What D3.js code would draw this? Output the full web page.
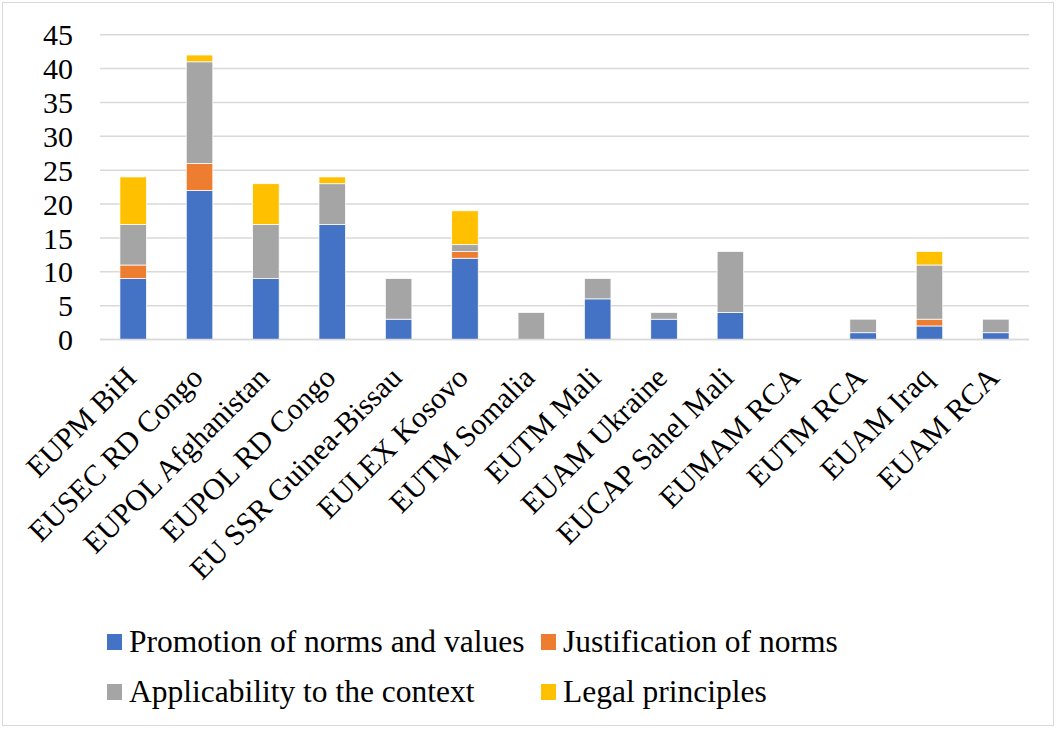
<!DOCTYPE html>
<html>
<head>
<meta charset="utf-8">
<script src="https://cdn.jsdelivr.net/npm/d3@7"></script>
<style>
  html, body { margin: 0; padding: 0; background: #fff; }
  svg { display: block; }
</style>
</head>
<body>
<svg id="chart" width="1057" height="729"></svg>
<script>
// Missions on the x axis
const missions = [
  "EUPM BiH", "EUSEC RD Congo", "EUPOL Afghanistan", "EUPOL RD Congo",
  "EU SSR Guinea-Bissau", "EULEX Kosovo", "EUTM Somalia", "EUTM Mali",
  "EUAM Ukraine", "EUCAP Sahel Mali", "EUMAM RCA", "EUTM RCA",
  "EUAM Iraq", "EUAM RCA"
];

// Counts per argument type, one value per mission
const promotion     = [9, 22, 9, 17, 3, 12, 0, 6, 3, 4, 0, 1, 2, 1];
const justification = [2, 4, 0, 0, 0, 1, 0, 0, 0, 0, 0, 0, 1, 0];
const applicability = [6, 15, 8, 6, 6, 1, 4, 3, 1, 9, 0, 2, 8, 2];
const legal         = [7, 1, 6, 1, 0, 5, 0, 0, 0, 0, 0, 0, 2, 0];

const seriesNames = [
  "Promotion of norms and values", "Justification of norms",
  "Applicability to the context", "Legal principles"
];
const seriesColors = ["#4472C4", "#ED7D31", "#A5A5A5", "#FFC000"];
const yTicks = [0, 5, 10, 15, 20, 25, 30, 35, 40, 45];

const FONT = "Liberation Serif";

const keys = ["promotion", "justification", "applicability", "legal"];
const rows = missions.map((m, i) => ({
  mission: m,
  promotion: promotion[i],
  justification: justification[i],
  applicability: applicability[i],
  legal: legal[i]
}));

const svg = d3.select("#chart");

// outer frame
svg.append("rect")
  .attr("x", 2.5).attr("y", 2.5)
  .attr("width", 1051).attr("height", 723)
  .attr("fill", "none").attr("stroke", "#d9d9d9").attr("stroke-width", 1);

const plot = { left: 100, right: 1029, top: 34.7, bottom: 339.5 };

const x = d3.scaleBand()
  .domain(missions)
  .range([plot.left, plot.right])
  .paddingInner(0.6)
  .paddingOuter(0.3);

const y = d3.scaleLinear()
  .domain([0, 45])
  .range([plot.bottom, plot.top]);

// gridlines
svg.append("g")
  .selectAll("line")
  .data(yTicks)
  .join("line")
  .attr("x1", plot.left).attr("x2", plot.right)
  .attr("y1", d => y(d)).attr("y2", d => y(d))
  .attr("stroke", "#d9d9d9").attr("stroke-width", 1.5);

// y axis labels
const yAxis = d3.axisLeft(y).tickValues(yTicks).tickSize(0).tickPadding(0);
const yG = svg.append("g")
  .attr("transform", `translate(73,0)`)
  .call(yAxis)
  .attr("font-family", FONT)
  .attr("font-size", 30);
yG.select(".domain").remove();
yG.selectAll("text")
  .style("font-family", FONT)
  .style("font-size", "30px")
  .attr("fill", "#000")
  .attr("dy", "0.34em");

// stacked bars
const stack = d3.stack().keys(keys)(rows);
svg.append("g")
  .selectAll("g")
  .data(stack)
  .join("g")
  .attr("fill", (d, i) => seriesColors[i])
  .selectAll("rect")
  .data(d => d.filter(s => s[1] - s[0] > 0))
  .join("rect")
  .attr("x", d => x(d.data.mission))
  .attr("width", x.bandwidth())
  .attr("y", d => y(d[1]))
  .attr("height", d => y(d[0]) - y(d[1]))
  .attr("stroke", "#ffffff")
  .attr("stroke-width", 0.75);

// x axis baseline
svg.append("line")
  .attr("x1", plot.left).attr("x2", plot.right)
  .attr("y1", y(0)).attr("y2", y(0))
  .attr("stroke", "#d9d9d9").attr("stroke-width", 1.5);

// rotated category labels
const xAxis = d3.axisBottom(x).tickSize(0).tickPadding(0);
const xG = svg.append("g")
  .attr("transform", `translate(0,${y(0)})`)
  .call(xAxis)
  .attr("font-family", FONT)
  .attr("font-size", 30);
xG.select(".domain").remove();
xG.selectAll("text")
  .style("font-family", FONT)
  .style("font-size", "30px")
  .attr("fill", "#000")
  .attr("text-anchor", "end")
  .attr("dy", null)
  .attr("y", 0)
  .attr("transform", "translate(5,40) rotate(-45)");

// legend
const legendItems = [
  { name: seriesNames[0], color: seriesColors[0], sx: 107, tx: 129, by: 652 },
  { name: seriesNames[1], color: seriesColors[1], sx: 541, tx: 563, by: 652 },
  { name: seriesNames[2], color: seriesColors[2], sx: 107, tx: 129, by: 702 },
  { name: seriesNames[3], color: seriesColors[3], sx: 541, tx: 563, by: 702 }
];
const lg = svg.append("g");
lg.selectAll("rect")
  .data(legendItems)
  .join("rect")
  .attr("x", d => d.sx).attr("y", d => d.by - 18)
  .attr("width", 15).attr("height", 16)
  .attr("fill", d => d.color);
lg.selectAll("text")
  .data(legendItems)
  .join("text")
  .attr("x", d => d.tx).attr("y", d => d.by)
  .style("font-family", FONT)
  .style("font-size", "31.5px")
  .attr("fill", "#000")
  .text(d => d.name);
</script>
</body>
</html>
